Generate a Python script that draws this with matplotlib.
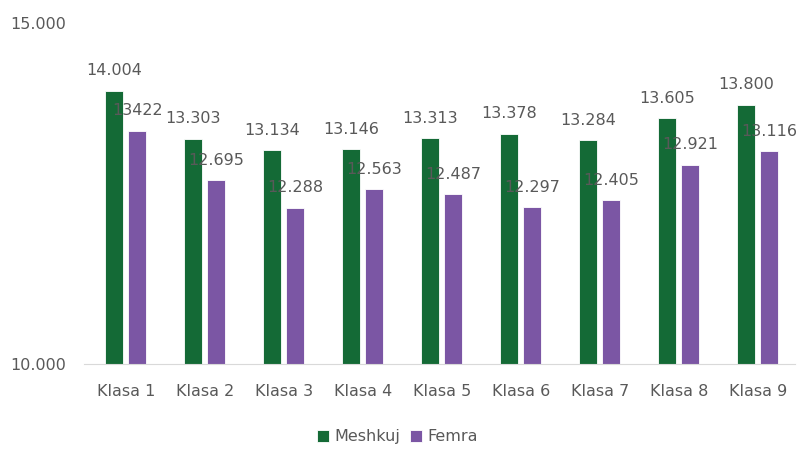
import numpy as np
import matplotlib.pyplot as plt

klasat = ['Klasa 1', 'Klasa 2', 'Klasa 3', 'Klasa 4', 'Klasa 5',
          'Klasa 6', 'Klasa 7', 'Klasa 8', 'Klasa 9']
meshkuj = [14004, 13303, 13134, 13146, 13313, 13378, 13284, 13605, 13800]
femra = [13422, 12695, 12288, 12563, 12487, 12297, 12405, 12921, 13116]
lbl_meshkuj = ['14.004', '13.303', '13.134', '13.146', '13.313',
               '13.378', '13.284', '13.605', '13.800']
lbl_femra = ['13422', '12.695', '12.288', '12.563', '12.487',
             '12.297', '12.405', '12.921', '13.116']

green = '#146a36'
purple = '#7b56a4'
grey = '#595959'

plt.rcParams['font.family'] = ['DejaVu Sans']

fig = plt.figure(figsize=(7.99, 4.49), dpi=100)
ax = fig.add_axes([0.105, 0.189, 0.89, 0.76])

x = np.arange(len(klasat))
w = 0.228
off = 0.146
b1 = ax.bar(x - off, np.array(meshkuj) - 10000, w, bottom=10000, color=green,
            edgecolor='white', linewidth=0.6, label='Meshkuj')
b2 = ax.bar(x + off, np.array(femra) - 10000, w, bottom=10000, color=purple,
            edgecolor='white', linewidth=0.6, label='Femra')

for xi, v, t in zip(x, meshkuj, lbl_meshkuj):
    ax.annotate(t, (xi - off, v), xytext=(0, 9), textcoords='offset points',
                ha='center', va='bottom', fontsize=11.5, color=grey)
for xi, v, t in zip(x, femra, lbl_femra):
    ax.annotate(t, (xi + off, v), xytext=(0, 9), textcoords='offset points',
                ha='center', va='bottom', fontsize=11.5, color=grey)

ax.set_xlim(-0.53, 8.47)
ax.set_ylim(10000, 15000)
ax.set_yticks([10000, 15000])
ax.set_yticklabels(['10.000', '15.000'])
ax.set_xticks(x)
ax.set_xticklabels(klasat)
ax.tick_params(axis='both', length=0, labelsize=11.5, labelcolor=grey)
ax.tick_params(axis='y', pad=13)
ax.tick_params(axis='x', pad=14)
for s in ['top', 'right', 'left']:
    ax.spines[s].set_visible(False)
ax.spines['bottom'].set_color('#d9d9d9')

fig.legend(handles=[b1, b2], loc='center', bbox_to_anchor=(0.497, 0.027),
           ncol=2, frameon=False, fontsize=11.5, labelcolor=grey,
           handlelength=0.8, handleheight=0.8, handletextpad=0.3,
           columnspacing=0.6)

plt.savefig('out.png', dpi=100)
